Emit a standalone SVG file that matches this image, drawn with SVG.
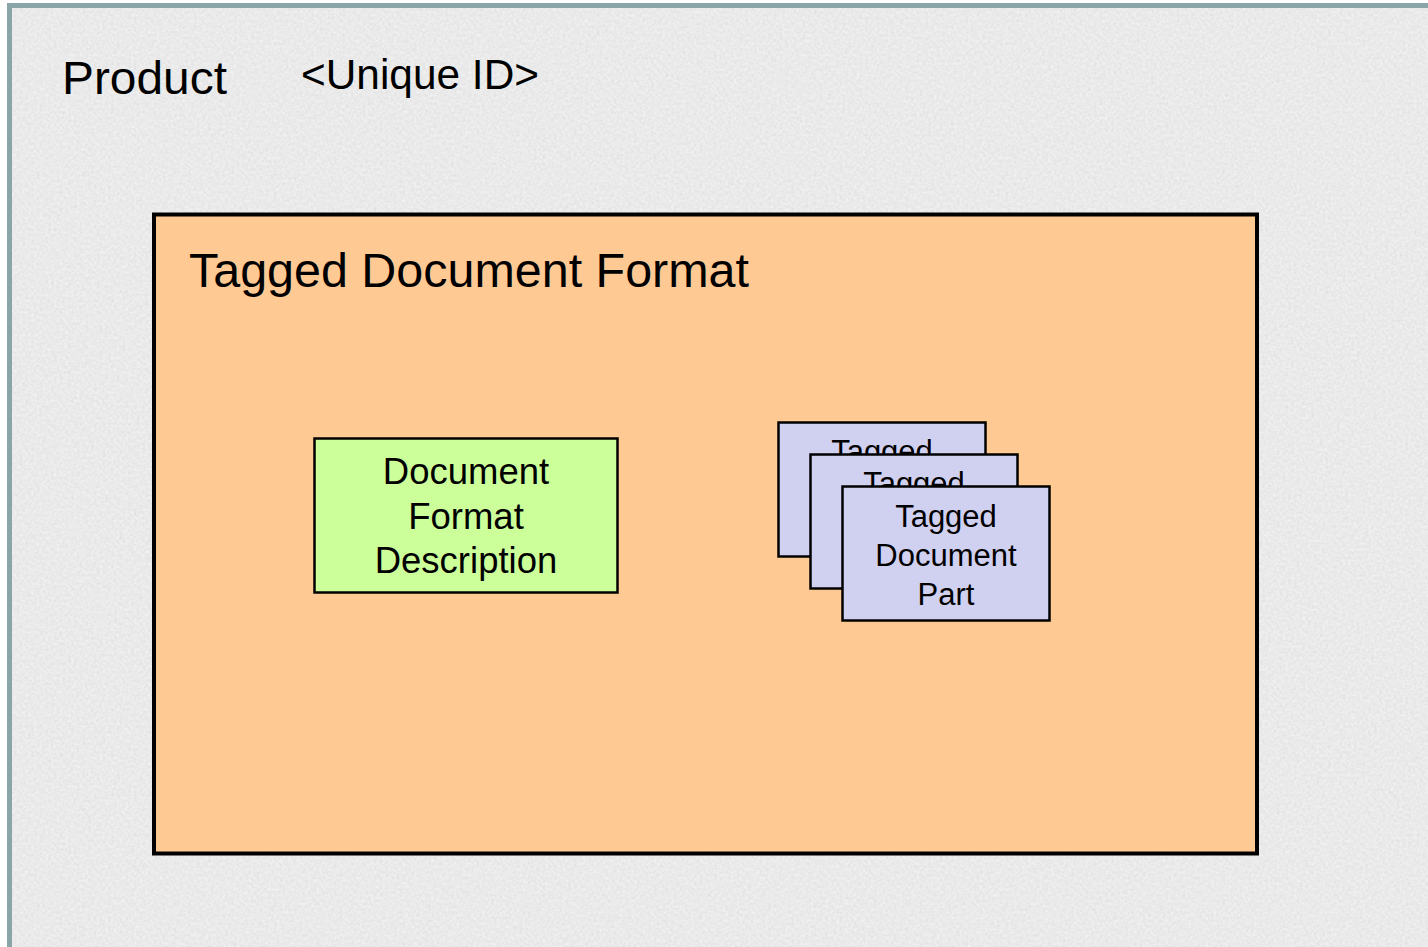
<svg xmlns="http://www.w3.org/2000/svg" width="1428" height="947" viewBox="0 0 1428 947">
  <defs>
    <filter id="granite" x="0" y="0" width="100%" height="100%">
      <feTurbulence type="fractalNoise" baseFrequency="0.35" numOctaves="3" seed="7" result="n"/>
      <feColorMatrix in="n" type="matrix" values="0 0 0 0 0.55  0 0 0 0 0.55  0 0 0 0 0.55  0.9 0.3 0 0 -0.35" result="g"/>
      <feComposite in="g" in2="SourceGraphic" operator="in"/>
    </filter>
    <style>
      .t { font-family: "Liberation Sans", Arial, sans-serif; fill: #000; }
      .part { fill: #d0d0f0; stroke: #000; stroke-width: 2.5; }
    </style>
  </defs>
  <rect x="0" y="0" width="1428" height="947" fill="#ffffff"/>
  <g id="product">
    <rect x="10" y="5.5" width="1430" height="960" fill="#f0f0f0"/>
    <rect x="10" y="5.5" width="1430" height="960" fill="#f0f0f0" filter="url(#granite)" opacity="0.55"/>
    <rect x="9.5" y="5.5" width="1430" height="960" fill="none" stroke="#8aa5a8" stroke-width="5"/>
    <text class="t" x="62" y="94" font-size="46.5" textLength="165" lengthAdjust="spacingAndGlyphs">Product</text>
    <text class="t" x="301" y="89" font-size="42" textLength="238" lengthAdjust="spacingAndGlyphs">&lt;Unique ID&gt;</text>
  </g>
  <g id="tagged-document-format">
    <rect x="154" y="214.5" width="1103" height="639" fill="#ffc994" stroke="#000" stroke-width="4"/>
    <text class="t" x="189" y="287" font-size="47.5" textLength="560" lengthAdjust="spacingAndGlyphs">Tagged Document Format</text>
  </g>
  <g id="document-format-description">
    <rect x="314.5" y="438.5" width="303" height="154" fill="#ccff99" stroke="#000" stroke-width="2.5"/>
    <text class="t" x="466" y="484" font-size="36.5" text-anchor="middle">Document</text>
    <text class="t" x="466" y="528.5" font-size="36.5" text-anchor="middle">Format</text>
    <text class="t" x="466" y="573" font-size="36.5" text-anchor="middle">Description</text>
  </g>
  <g id="tagged-document-part-1">
    <rect class="part" x="778.5" y="422.5" width="207" height="134"/>
    <text class="t" x="882" y="462" font-size="31" text-anchor="middle">Tagged</text>
  </g>
  <g id="tagged-document-part-2">
    <rect class="part" x="810.5" y="454.5" width="207" height="134"/>
    <text class="t" x="914" y="494" font-size="31" text-anchor="middle">Tagged</text>
  </g>
  <g id="tagged-document-part-3">
    <rect class="part" x="842.5" y="486.5" width="207" height="134"/>
    <text class="t" x="946" y="527" font-size="31" text-anchor="middle">Tagged</text>
    <text class="t" x="946" y="566" font-size="31" text-anchor="middle">Document</text>
    <text class="t" x="946" y="605" font-size="31" text-anchor="middle">Part</text>
  </g>
  <g id="connectors"></g>
</svg>
